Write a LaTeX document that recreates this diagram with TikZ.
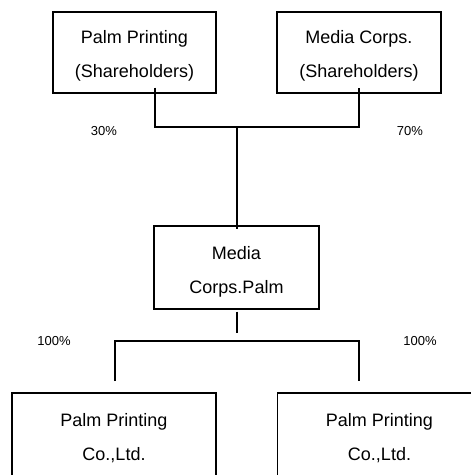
\documentclass[tikz,border=0pt]{standalone}
\usepackage{fontspec}
\setmainfont{Liberation Sans}
\begin{document}
\begin{tikzpicture}[x=1pt,y=-1pt,
  box/.style={draw,line width=1.3pt,inner sep=0pt},
  boxtext/.style={inner sep=0pt,align=center,font=\fontsize{18}{34}\selectfont},
  pct/.style={inner sep=0pt,font=\fontsize{13}{15}\selectfont},
  link/.style={line width=1.3pt}]
\useasboundingbox (0,0) rectangle (471,475);
\clip (0,0) rectangle (471,475);
\node[box,minimum width=163pt,minimum height=81pt] (tl) at (134.5,52.5) {};
\node[box,minimum width=164pt,minimum height=81pt] (tr) at (359,52.5) {};
\node[box,minimum width=165pt,minimum height=83pt] (mid) at (236.5,267.5) {};
\node[box,minimum width=204pt,minimum height=88pt] (bl) at (114,437) {};
\node[box,minimum width=204pt,minimum height=88pt] (br) at (379.5,437) {};
\node[boxtext] (tlt) at ([yshift=-3.5pt]tl.center) {Palm Printing\\(Shareholders)};
\node[boxtext] (trt) at ([yshift=-3.5pt]tr.center) {Media Corps.\\(Shareholders)};
\node[boxtext] (midt) at ([yshift=-4.5pt]mid.center) {Media\\Corps.Palm};
\node[boxtext] (blt) at ([yshift=-1.5pt]bl.center) {Palm Printing\\Co.,Ltd.};
\node[boxtext] (brt) at ([yshift=-1.5pt]br.center) {Palm Printing\\Co.,Ltd.};
\node[pct] (p30) at (104,131.5) {30\%};
\node[pct] (p70) at (410,131.5) {70\%};
\node[pct] (p100a) at (54,341.5) {100\%};
\node[pct] (p100b) at (420,341.5) {100\%};
\coordinate (ja) at (155,127);
\coordinate (jb) at (359,127);
\coordinate (jc) at (237,127);
\coordinate (jd) at (237,333);
\coordinate (jl) at (115,341);
\coordinate (jr) at (359,341);
\coordinate (el) at (115,381);
\coordinate (er) at (359,381);
\draw[link] ([xshift=20.5pt,yshift=6pt]tl.south) -- (ja) -- (jb) -- ([yshift=6pt]tr.south);
\draw[link] (jc) -- ([xshift=0.5pt,yshift=-4pt]mid.north);
\draw[link] ([xshift=0.5pt,yshift=-2pt]mid.south) -- (jd);
\draw[link] (el) -- (jl) -- (jr) -- (er);
\end{tikzpicture}
\end{document}
